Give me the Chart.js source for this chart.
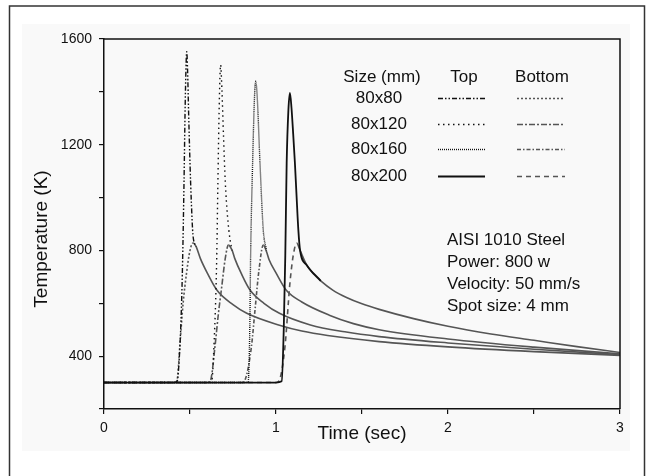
<!DOCTYPE html>
<html><head><meta charset="utf-8">
<script src="https://cdn.jsdelivr.net/npm/chart.js@4/dist/chart.umd.min.js"></script>
<style>html,body{margin:0;padding:0;background:#fff;}#wrap{width:656px;height:476px;position:relative;}</style>
</head><body><div id="wrap"><canvas id="c" width="656" height="476"></canvas></div>
<script>
// ---- data ----
const sizes = ['80x80', '80x120', '80x160', '80x200'];
const xTicks = [0, 1, 2, 3];
const yTicks = [400, 800, 1200, 1600];

const t80T = [0, 0.40, 0.425, 0.44, 0.45, 0.457, 0.465, 0.472, 0.478, 0.481, 0.486, 0.492, 0.500, 0.508, 0.517, 0.535];
const v80T = [300, 300, 305, 420, 580, 760, 1050, 1350, 1520, 1552, 1480, 1320, 1130, 980, 860, 815];
const t80B = [0, 0.41, 0.425, 0.442, 0.46, 0.48, 0.50, 0.518, 0.535, 0.56, 0.60, 0.657, 0.75, 0.83, 1.02, 1.15, 1.30, 1.60, 2.00, 2.50, 3.00];
const v80B = [300, 300, 310, 450, 600, 715, 800, 828, 815, 770, 715, 649, 595, 562, 517, 495, 478, 455, 435, 417, 403];

const t120T = [0, 0.60, 0.626, 0.64, 0.655, 0.662, 0.670, 0.678, 0.686, 0.695, 0.705, 0.718, 0.733, 0.745];
const v120T = [300, 300, 305, 450, 760, 1050, 1350, 1502, 1400, 1230, 1060, 930, 840, 800];
const t120B = [0, 0.60, 0.62, 0.645, 0.665, 0.684, 0.705, 0.723, 0.745, 0.76, 0.80, 0.85, 0.93, 1.02, 1.20, 1.40, 1.60, 2.00, 2.50, 3.00];
const v120B = [300, 300, 310, 435, 560, 660, 770, 820, 800, 770, 710, 649, 600, 562, 518, 492, 474, 450, 426, 406];

const t160T = [0, 0.815, 0.838, 0.848, 0.852, 0.864, 0.875, 0.882, 0.890, 0.907, 0.926, 0.945];
const v160T = [300, 300, 305, 520, 760, 1130, 1380, 1440, 1390, 1130, 877, 800];
const t160B = [0, 0.80, 0.82, 0.857, 0.878, 0.90, 0.926, 0.945, 0.96, 1.00, 1.06, 1.15, 1.31, 1.45, 1.60, 2.00, 2.50, 3.00];
const v160B = [300, 300, 310, 435, 575, 720, 820, 795, 765, 715, 649, 605, 555, 523, 500, 465, 434, 409];

const t200T = [0, 1.00, 1.033, 1.045, 1.054, 1.062, 1.072, 1.081, 1.090, 1.100, 1.110, 1.120, 1.130, 1.14, 1.178, 1.26];
const v200T = [300, 300, 305, 500, 780, 1130, 1330, 1396, 1340, 1240, 1130, 1000, 877, 800, 745, 685];
const t200B = [0, 1.00, 1.02, 1.052, 1.081, 1.10, 1.12, 1.14, 1.178, 1.22, 1.26, 1.33, 1.41, 1.50, 1.60, 1.80, 2.00, 2.25, 2.50, 2.75, 3.00];
const v200B = [300, 300, 310, 435, 677, 780, 828, 800, 745, 710, 685, 650, 622, 598, 577, 542, 513, 484, 460, 436, 414];

const infoLines = ['AISI 1010 Steel', 'Power: 800 w', 'Velocity: 50 mm/s', 'Spot size: 4 mm'];

// ---- styles ----
const FONT = '"Liberation Sans", Arial, sans-serif';
const TOPC = '#111';
const BOTC = '#555';
const topDash = [[5, 2, 1.5, 2, 1.5, 2], [1.5, 3.5], [1, 1], []];
const botDash = [[2, 2], [6, 2, 2, 2], [4, 2, 1.5, 2], [5, 4]];

function pts(t, v) { return t.map((x, i) => ({ x: x, y: v[i] })); }
function peakT(t, v) { let m = 0; v.forEach((y, i) => { if (y > v[m]) m = i; }); return t[m]; }

const topSets = [[t80T, v80T], [t120T, v120T], [t160T, v160T], [t200T, v200T]];
const botSets = [[t80B, v80B], [t120B, v120B], [t160B, v160B], [t200B, v200B]];

const datasets = [];
sizes.forEach((s, i) => {
  datasets.push({
    label: s + ' Top', data: pts(topSets[i][0], topSets[i][1]),
    borderColor: TOPC, borderWidth: i === 3 ? 1.8 : 1.4, borderDash: topDash[i],
    pointRadius: 0, cubicInterpolationMode: 'monotone', order: 0
  });
});
sizes.forEach((s, i) => {
  const pk = peakT(botSets[i][0], botSets[i][1]);
  datasets.push({
    label: s + ' Bottom', data: pts(botSets[i][0], botSets[i][1]),
    borderColor: BOTC, borderWidth: 1.6, borderDash: botDash[i],
    segment: { borderDash: c => (c.p0.parsed.x >= pk ? [] : botDash[i]) },
    pointRadius: 0, cubicInterpolationMode: 'monotone', order: 1
  });
});

const decor = {
  id: 'decor',
  beforeDraw(chart) {
    const ctx = chart.ctx;
    ctx.save();
    ctx.fillStyle = '#fff'; ctx.fillRect(0, 0, 656, 476);
    ctx.fillStyle = '#f9f9f9'; ctx.fillRect(22, 24, 608, 427);
    ctx.strokeStyle = '#333'; ctx.lineWidth = 1.5;
    ctx.strokeRect(9.5, 6, 635, 490);
    ctx.restore();
  },
  afterDraw(chart) {
    const ctx = chart.ctx, a = chart.chartArea;
    ctx.save();
    ctx.strokeStyle = '#111'; ctx.lineWidth = 1.5; ctx.setLineDash([]);
    ctx.beginPath(); ctx.moveTo(a.left, a.top); ctx.lineTo(a.right, a.top); ctx.lineTo(a.right, a.bottom); ctx.stroke();
    // y title
    ctx.fillStyle = '#111';
    ctx.font = '19px ' + FONT;
    ctx.textAlign = 'center'; ctx.textBaseline = 'middle';
    ctx.save(); ctx.translate(42, 239); ctx.rotate(-Math.PI / 2); ctx.fillText('Temperature (K)', 0, 0); ctx.restore();
    // legend table
    ctx.font = '17px ' + FONT;
    ctx.fillText('Size (mm)', 382, 77);
    ctx.fillText('Top', 464, 77);
    ctx.fillText('Bottom', 542, 77);
    const rowY = [98, 124, 149, 176];
    sizes.forEach((s, i) => {
      ctx.fillStyle = '#111';
      ctx.fillText(s, 379, rowY[i]);
      ctx.lineWidth = i === 3 ? 1.8 : 1.4;
      ctx.strokeStyle = TOPC; ctx.setLineDash(topDash[i]);
      ctx.beginPath(); ctx.moveTo(438, rowY[i] + 0.5); ctx.lineTo(485, rowY[i] + 0.5); ctx.stroke();
      ctx.lineWidth = 1.4;
      ctx.strokeStyle = BOTC; ctx.setLineDash(botDash[i]);
      ctx.beginPath(); ctx.moveTo(517, rowY[i] + 0.5); ctx.lineTo(565, rowY[i] + 0.5); ctx.stroke();
    });
    ctx.setLineDash([]);
    // info text
    ctx.textAlign = 'left'; ctx.fillStyle = '#111';
    infoLines.forEach((l, i) => ctx.fillText(l, 447, 240 + i * 22));
    ctx.restore();
  }
};

new Chart(document.getElementById('c'), {
  type: 'line',
  data: { datasets: datasets },
  plugins: [decor],
  options: {
    responsive: false, animation: false, devicePixelRatio: 1,
    layout: { padding: { left: 0, right: 36, top: 39, bottom: 27 } },
    plugins: { legend: { display: false }, tooltip: { enabled: false } },
    scales: {
      x: {
        type: 'linear', min: 0, max: 3,
        afterFit: s => { s.height = 40; },
        afterBuildTicks: s => { const tk = []; for (let v = 0; v <= 3.001; v += 0.5) tk.push({ value: +v.toFixed(1) }); s.ticks = tk; },
        ticks: { callback: v => (xTicks.includes(v) ? String(v) : ''), font: { size: 14, family: FONT }, color: '#111', padding: 6, maxRotation: 0, autoSkip: false },
        grid: { drawOnChartArea: false, drawTicks: true, tickLength: 5, color: '#111', lineWidth: 1.2 },
        border: { color: '#111', width: 1.5 },
        title: { display: true, text: 'Time (sec)', color: '#111', font: { size: 19, family: FONT }, padding: { top: 0, bottom: 4 } }
      },
      y: {
        type: 'linear', min: 200, max: 1600,
        afterFit: s => { s.width = 104; },
        afterBuildTicks: s => { const tk = []; for (let v = 200; v <= 1600; v += 200) tk.push({ value: v }); s.ticks = tk; },
        ticks: { callback: v => (yTicks.includes(v) ? String(v) : ''), font: { size: 14, family: FONT }, color: '#111', padding: 7 },
        grid: { drawOnChartArea: false, drawTicks: true, tickLength: 5, color: '#111', lineWidth: 1.2 },
        border: { color: '#111', width: 1.5 }
      }
    }
  }
});
</script>
</body></html>
